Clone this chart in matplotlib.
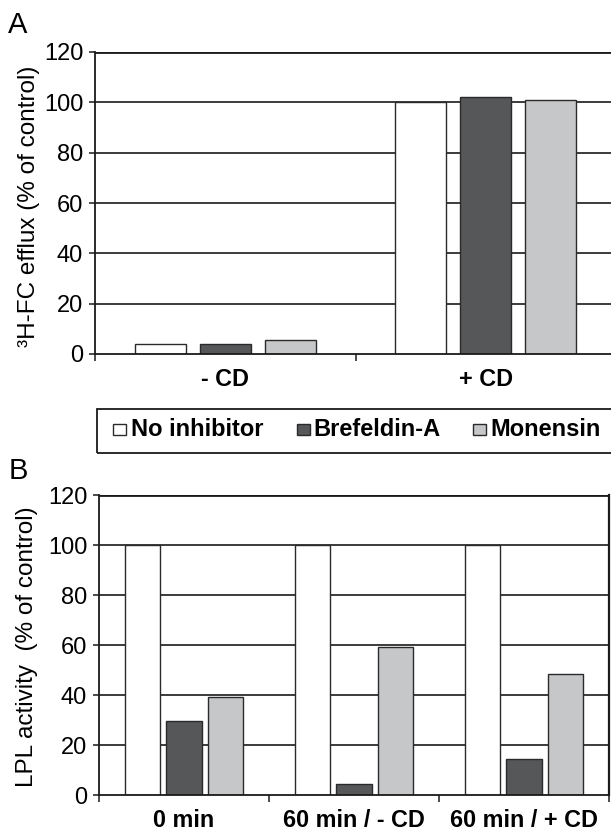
import matplotlib
matplotlib.use("Agg")
import matplotlib.pyplot as plt
from matplotlib.patches import Rectangle
import numpy as np

plt.rcParams['font.family'] = ['Liberation Sans', 'DejaVu Sans']

# ---- data ----
series = ["No inhibitor", "Brefeldin-A", "Monensin"]
colors = ["#ffffff", "#555759", "#c6c7c9"]

cats_a = ["- CD", "+ CD"]
vals_a = {
    "No inhibitor": [4.1, 100.0],
    "Brefeldin-A": [4.1, 102.1],
    "Monensin": [5.4, 100.8],
}

cats_b = ["0 min", "60 min / - CD", "60 min / + CD"]
vals_b = {
    "No inhibitor": [100.0, 100.0, 100.0],
    "Brefeldin-A": [29.7, 4.3, 14.5],
    "Monensin": [39.2, 59.4, 48.6],
}

yticks = [0, 20, 40, 60, 80, 100, 120]

W, H = 611, 834
fig = plt.figure(figsize=(W / 100, H / 100), dpi=100)


def ax_rect(x0, x1, ytop, ybot):
    return [x0 / W, 1 - ybot / H, (x1 - x0) / W, (ybot - ytop) / H]


def draw_panel(ax, cats, vals, step, width, box):
    n = len(cats)
    x = np.arange(n)
    for j, s in enumerate(series):
        ax.bar(x + (j - 1) * step, vals[s], width=width, color=colors[j],
               edgecolor="#2a2a2a", linewidth=1.0, zorder=3)
    ax.set_xlim(-0.5, n - 0.5)
    ax.set_ylim(0, 120)
    ax.set_yticks(yticks)
    ax.set_yticklabels([str(v) for v in yticks], fontsize=17)
    # gridlines
    for v in yticks[1:]:
        lw = 2.0 if v == 120 else 1.2
        ax.axhline(v, color="#1a1a1a", lw=lw, zorder=1)
    # category boundary ticks
    ax.set_xticks(np.arange(n + 1) - 0.5)
    ax.set_xticklabels([])
    ax.tick_params(axis="x", which="major", direction="out", length=5,
                   width=1.1, color="#1a1a1a")
    ax.set_xticks(x, minor=True)
    ax.set_xticklabels(cats, minor=True, fontsize=16.8, fontweight="bold")
    ax.tick_params(axis="x", which="minor", length=0, pad=10)
    ax.tick_params(axis="y", direction="out", length=4, width=1.1,
                   color="#1a1a1a", pad=4.5)
    for sp in ["left", "bottom"]:
        ax.spines[sp].set_linewidth(1.3)
        ax.spines[sp].set_color("#1a1a1a")
        ax.spines[sp].set_zorder(4)
    ax.spines["top"].set_visible(False)
    if box:
        ax.spines["right"].set_linewidth(1.6)
        ax.spines["right"].set_color("#1a1a1a")
    else:
        ax.spines["right"].set_visible(False)


axA = fig.add_axes(ax_rect(95, 616, 52, 354))
draw_panel(axA, cats_a, vals_a, 0.25, 0.196, box=False)

axB = fig.add_axes(ax_rect(99, 609, 495, 795))
draw_panel(axB, cats_b, vals_b, 0.243, 0.206, box=True)

# y labels
fig.text(29 / W, 1 - 206 / H, "\u00b3H-FC efflux (% of control)", rotation=90,
         ha="center", va="center", fontsize=17.5)
fig.text(27 / W, 1 - 647 / H, "LPL activity  (% of control)", rotation=90,
         ha="center", va="center", fontsize=17.5)

# panel letters
fig.text(8 / W, 1 - 33 / H, "A", fontsize=21, va="baseline", ha="left")
fig.text(9 / W, 1 - 479 / H, "B", fontsize=21, va="baseline", ha="left")

# legend box (manual layout)
fig.patches.append(Rectangle((97 / W, 1 - 453 / H), (620 - 97) / W, 44 / H,
                             transform=fig.transFigure, fill=False,
                             edgecolor="#1a1a1a", linewidth=1.3))
sq_x = [113, 297, 473]
txt_x = [131, 313, 490]
for s, c, sx, tx in zip(series, colors, sq_x, txt_x):
    fig.patches.append(Rectangle((sx / W, 1 - 435 / H), 13 / W, 11 / H,
                                 transform=fig.transFigure, facecolor=c,
                                 edgecolor="#2a2a2a", linewidth=1.0))
    fig.text(tx / W, 1 - 436 / H, s, fontsize=17, fontweight="bold",
             va="baseline", ha="left")

fig.savefig("out.png", dpi=100)
